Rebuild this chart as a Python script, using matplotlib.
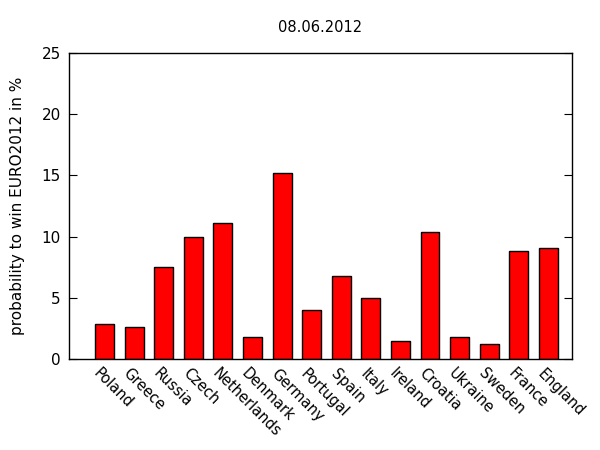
import numpy as np
import matplotlib
matplotlib.use('Agg')
import matplotlib.pyplot as plt
import matplotlib.transforms as mtransforms

# data
teams = ['Poland', 'Greece', 'Russia', 'Czech', 'Netherlands', 'Denmark',
         'Germany', 'Portugal', 'Spain', 'Italy', 'Ireland', 'Croatia',
         'Ukraine', 'Sweden', 'France', 'England']
probability = [2.9, 2.6, 7.5, 10.0, 11.1, 1.8, 15.2, 4.0,
               6.8, 5.0, 1.5, 10.4, 1.8, 1.2, 8.8, 9.1]
title = '08.06.2012'
ylabel = 'probability to win EURO2012 in %'

fig = plt.figure(figsize=(6, 4.5), dpi=100)
ax = fig.add_axes([69 / 600, 1 - 359 / 450, 503 / 600, 306 / 450])

x = np.arange(len(teams))
ax.bar(x, probability, width=0.64, color='#ff0000', edgecolor='black', linewidth=1)

ax.set_xlim(-1.2, 15.8)
ax.set_ylim(0, 25)
ax.set_yticks([0, 5, 10, 15, 20, 25])
ax.set_xticks(x)
ax.set_xticklabels(teams, rotation=-45, ha='left', va='top', rotation_mode='anchor')

ax.tick_params(axis='y', direction='in', length=6, right=True, labelsize=11, pad=6)
ax.tick_params(axis='x', length=0, labelsize=10.5, pad=5)

# nudge x labels a little left so they start under the bar
offset = mtransforms.ScaledTranslation(-3 / 100, 0, fig.dpi_scale_trans)
for lab in ax.get_xticklabels():
    lab.set_transform(lab.get_transform() + offset)

for s in ax.spines.values():
    s.set_linewidth(1)

ax.set_ylabel(ylabel, fontsize=11, labelpad=12)
fig.text(320 / 600, 1 - 27 / 450, title, ha='center', va='center', fontsize=10.5)

plt.savefig('out.png', dpi=100)
